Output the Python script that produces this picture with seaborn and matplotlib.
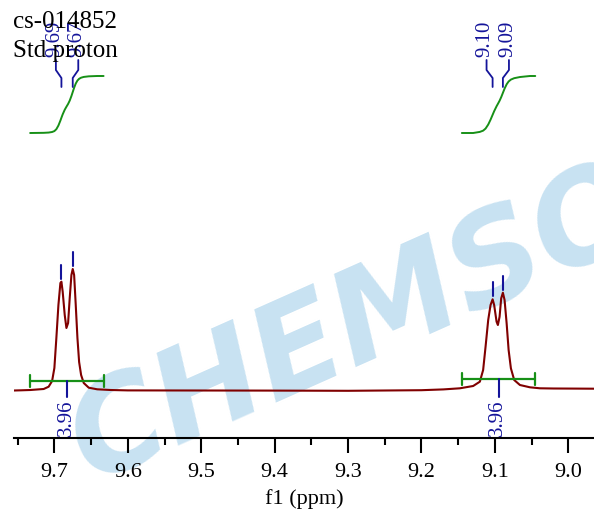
import numpy as np
import pandas as pd
import matplotlib
matplotlib.use("Agg")
import matplotlib.pyplot as plt
from matplotlib.ticker import MultipleLocator
import seaborn as sns

# ---------------- data ----------------
header_lines = ["cs-014852", "Std proton"]
x_label = "f1 (ppm)"
xtick_values = [9.7, 9.6, 9.5, 9.4, 9.3, 9.2, 9.1, 9.0]
xtick_labels = ["9.7", "9.6", "9.5", "9.4", "9.3", "9.2", "9.1", "9.0"]

# spectrum samples (ppm, intensity)
base_left_ppm = [9.755, 9.745]
base_left_int = [-0.5, -0.3]

mult1_ppm = [9.7327, 9.7146, 9.7078, 9.7031, 9.7000, 9.6973, 9.6945, 9.6918,
             9.6904, 9.6887, 9.6859, 9.6836, 9.6813, 9.6791, 9.6768, 9.6750,
             9.6731, 9.6709, 9.6686, 9.6663, 9.6636, 9.6600, 9.6532, 9.6417,
             9.6236]
mult1_int = [0.0, 1.0, 3.3, 9.0, 22.0, 52.0, 85.0, 107.0,
             108.3, 98.3, 75.0, 62.0, 67.0, 92.0, 115.0, 121.0,
             115.0, 85.0, 52.0, 28.0, 15.0, 7.0, 2.3, 0.7,
             0.0]

base_mid_ppm = [9.60, 9.50, 9.40, 9.30, 9.20, 9.17]
base_mid_int = [-0.4, -0.5, -0.6, -0.8, -0.2, 0.6]

mult2_ppm = [9.1477, 9.1296, 9.1205, 9.1160, 9.1127, 9.1091, 9.1059, 9.1031,
             9.1010, 9.0977, 9.0959, 9.0936, 9.0914, 9.0891, 9.0868, 9.0840,
             9.0813, 9.0782, 9.0737, 9.0659, 9.0523, 9.0386]
mult2_int = [1.7, 4.0, 8.3, 20.0, 43.3, 70.0, 85.0, 90.7,
             85.0, 68.3, 65.0, 73.3, 91.7, 97.3, 90.0, 66.7,
             40.0, 21.7, 10.0, 5.0, 2.7, 1.7]

base_right_ppm = [9.02, 8.99, 8.965]
base_right_int = [1.5, 1.4, 1.3]

# peak picks
peak_ppm = [9.6904, 9.6750, 9.1031, 9.0891]
peak_labels = ["9.69", "9.67", "9.10", "9.09"]
peak_groups = [[0, 1], [2, 3]]

# integrations
integ_ranges = [(9.733, 9.633), (9.145, 9.045)]
integ_labels = ["3.96", "3.96"]

watermark = "CHEMSOC"

# ---------------- styling ----------------
SPEC_COLOR = "#800000"
LABEL_COLOR = "#14149a"
INTEG_COLOR = "#179017"
WM_COLOR = "#c8e2f2"

sns.set_theme(style="white")
plt.rcParams["font.family"] = ["Liberation Serif", "DejaVu Serif"]

fig = plt.figure(figsize=(5.94, 5.12), dpi=100)
ax = fig.add_axes([14 / 594, 74 / 512, 580 / 594, 438 / 512])
ax.patch.set_visible(False)

spec = pd.DataFrame({
    "ppm": base_left_ppm + mult1_ppm + base_mid_ppm + mult2_ppm + base_right_ppm,
    "intensity": base_left_int + mult1_int + base_mid_int + mult2_int + base_right_int,
})
sns.lineplot(data=spec, x="ppm", y="intensity", ax=ax, color=SPEC_COLOR,
             linewidth=1.5, estimator=None, sort=False, zorder=3)

all_ppm = np.array(spec["ppm"])
all_int = np.array(spec["intensity"])

# peak markers and labels
for grp in peak_groups:
    centre = np.mean([peak_ppm[i] for i in grp])
    n = len(grp)
    spread = 0.0305
    for k, i in enumerate(grp):
        p = peak_ppm[i]
        h = all_int[np.argmin(np.abs(all_ppm - p))]
        ax.plot([p, p], [h + 3, h + 17], color=LABEL_COLOR, lw=1.5, zorder=4)
        lx = centre + spread * (0.5 - k) if n > 1 else centre
        ax.plot([lx, lx, p, p], [330, 320, 312, 303], color=LABEL_COLOR,
                lw=1.3, zorder=4)
        ax.text(lx + 0.002, 333, peak_labels[i], rotation=90, ha="center",
                va="bottom", fontsize=15, color=LABEL_COLOR, zorder=5)

# integrals
mults = [(mult1_ppm, mult1_int), (mult2_ppm, mult2_int)]
for (a, b), lab, (mp, mi) in zip(integ_ranges, integ_labels, mults):
    mp = np.array(mp)
    mi = np.array(mi)
    sel = (mp <= a + 1e-9) & (mp >= b)
    xs = mp[sel]
    ys = mi[sel]
    cum = np.concatenate([[0.0], np.cumsum(0.5 * (ys[1:] + ys[:-1]) * (xs[:-1] - xs[1:]))])
    cum = cum / cum[-1]
    xs = np.concatenate([[a], xs, [b]])
    cum = np.concatenate([[0.0], cum, [1.0]])
    curve = pd.DataFrame({"ppm": xs, "integral": 257 + 57 * cum})
    sns.lineplot(data=curve, x="ppm", y="integral", ax=ax, color=INTEG_COLOR,
                 linewidth=1.4, estimator=None, sort=False, zorder=3)
    ybar = all_int[np.argmin(np.abs(all_ppm - a))] + 9.5
    ax.plot([a, b], [ybar, ybar], color=INTEG_COLOR, lw=1.6, zorder=4)
    for e in (a, b):
        ax.plot([e, e], [ybar - 6, ybar + 6], color=INTEG_COLOR, lw=1.6, zorder=4)
    mid = (a + b) / 2
    ax.plot([mid, mid], [ybar, -7], color=LABEL_COLOR, lw=1.5, zorder=4)
    ax.text(mid + 0.001, -10, lab, rotation=90, ha="center", va="top",
            fontsize=15, color=LABEL_COLOR, zorder=5)

# axes
ax.set_xlim(9.755, 8.965)
ax.set_ylim(-48, 390)
for s in ("top", "left", "right"):
    ax.spines[s].set_visible(False)
ax.spines["bottom"].set_color("black")
ax.spines["bottom"].set_linewidth(1.5)
ax.set_yticks([])
ax.set_xticks(xtick_values)
ax.set_xticklabels(xtick_labels)
ax.xaxis.set_minor_locator(MultipleLocator(0.05))
ax.tick_params(axis="x", which="major", bottom=True, length=11, width=1.5,
               direction="out", pad=7, labelsize=16, colors="black")
ax.tick_params(axis="x", which="minor", bottom=True, length=5, width=1.5,
               direction="out", colors="black")
ax.set_xlabel(x_label, fontsize=16, labelpad=5, color="black")
ax.set_ylabel("")

# header text
fig.text(13 / 594, 1 - 28 / 512, header_lines[0], fontsize=18, va="baseline",
         ha="left", color="black", zorder=6)
fig.text(13 / 594, 1 - 57 / 512, header_lines[1], fontsize=18, va="baseline",
         ha="left", color="black", zorder=6)

# watermark
fig.text(400 / 594, 1 - 306 / 512, watermark, rotation=24, ha="center",
         va="center", fontsize=92, fontweight="bold", fontstyle="italic",
         family="DejaVu Sans", color=WM_COLOR, zorder=-1,
         rotation_mode="anchor")

fig.savefig("out.png", dpi=100)
